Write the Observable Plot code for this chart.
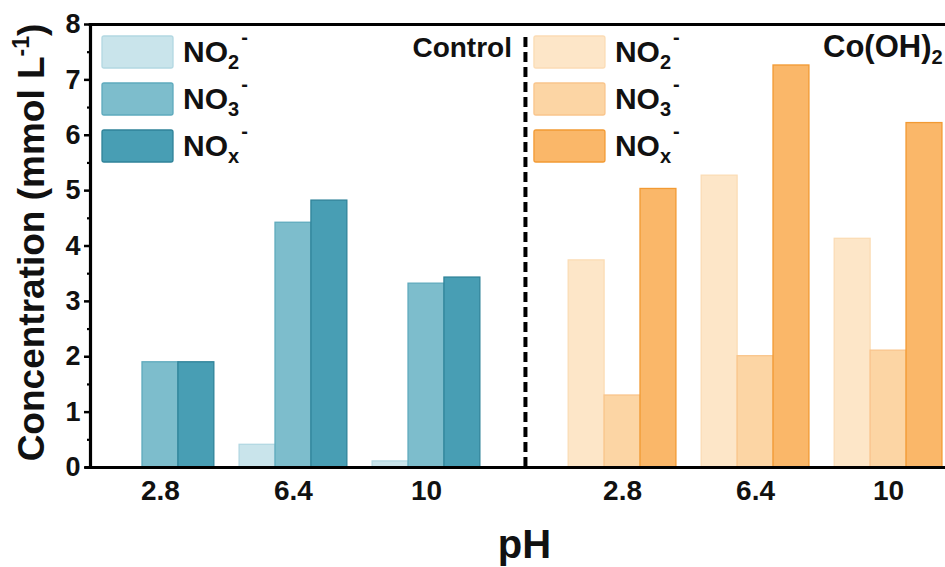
<!DOCTYPE html>
<html><head><meta charset="utf-8">
<script src="https://cdn.jsdelivr.net/npm/d3@7"></script>
<script src="https://cdn.jsdelivr.net/npm/@observablehq/plot@0.6"></script>
<style>
body{margin:0;background:#fff}
#chart svg{font-family:"Liberation Sans",Arial,sans-serif;font-weight:bold;overflow:visible}
</style>
</head><body><div id="chart"></div>
<script>
// ---- data ----
const pHLabels = ["2.8", "6.4", "10"];
const panels = ["Control", "Co(OH)2"];
const species = ["NO2", "NO3", "NOx"];
const controlNO2 = [0, 0.41, 0.11];
const controlNO3 = [1.90, 4.42, 3.32];
const controlNOx = [1.90, 4.82, 3.43];
const coNO2 = [3.74, 5.27, 4.13];
const coNO3 = [1.30, 2.01, 2.11];
const coNOx = [5.03, 7.26, 6.22];
const yTicks = [0, 1, 2, 3, 4, 5, 6, 7, 8];
const yMinor = [0.5, 1.5, 2.5, 3.5, 4.5, 5.5, 6.5, 7.5];

// ---- styling / layout ----
const fills = [["#c9e4eb", "#7dbdcc", "#489eb4"], ["#fde6c8", "#fcd5a4", "#fab769"]];
const strokes = [["#b3d8e2", "#5eaabd", "#2f8399"], ["#fbdcb5", "#f9c58c", "#f29a33"]];
const panelShift = 3.474, barW = 0.27, divider = 3.744;
const xDomain = [0.474, 6.902];

const values = [[controlNO2, controlNO3, controlNOx], [coNO2, coNO3, coNOx]];
const rows = [];
const labelRows = [];
panels.forEach((p, pi) => {
  pHLabels.forEach((ph, gi) => {
    const c = 1 + gi + pi * panelShift;
    labelRows.push({c, text: ph});
    species.forEach((s, k) => {
      const x1 = c + (k - 1.5) * barW;
      rows.push({x1, x2: x1 + barW, v: values[pi][k][gi], fill: fills[pi][k], stroke: strokes[pi][k]});
    });
  });
});

const plot = Plot.plot({
  width: 945, height: 567,
  marginLeft: 90, marginRight: 0, marginTop: 24, marginBottom: 100,
  x: {type: "linear", domain: xDomain, axis: null},
  y: {domain: [0, 8], axis: null},
  marks: [
    Plot.rect(rows, {x1: "x1", x2: "x2", y1: 0, y2: "v", fill: d => d.fill, stroke: d => d.stroke, strokeWidth: 1.3}),
    Plot.ruleX([divider], {y1: 0, y2: 7.84, stroke: "#000", strokeWidth: 4, strokeDasharray: "10,5"}),
    Plot.ruleY([0], {stroke: "#000", strokeWidth: 3.2, x1: xDomain[0] - 0.04, x2: xDomain[1]}),
    Plot.ruleY([8], {stroke: "#000", strokeWidth: 3.2, x1: xDomain[0] - 0.01, x2: xDomain[1]}),
    Plot.ruleX([xDomain[0]], {stroke: "#000", strokeWidth: 3.2}),
    Plot.axisY(yMinor, {tickSize: 3, strokeWidth: 2.2, tickFormat: () => "", label: null}),
    Plot.axisY(yTicks, {tickSize: 6, tickPadding: 4, strokeWidth: 2.5, fontSize: 27, fontWeight: "bold", fill: "#111", tickFormat: d => String(d), label: null}),
    Plot.text(labelRows, {x: "c", y: 0, text: "text", dy: 24, fontSize: 28, fontWeight: "bold", fill: "#111"})
  ]
});
document.getElementById("chart").append(plot);

// ---- annotations (titles, legend) via the plot's scales ----
const svg = d3.select(plot);
const X = v => plot.scale("x").apply(v);
const Y = v => plot.scale("y").apply(v);

// y title
const yt = svg.append("text")
  .attr("transform", `translate(44,${Y(4) - 3}) rotate(-90)`)
  .attr("text-anchor", "middle").attr("font-size", 37).attr("font-weight", "bold").attr("fill", "#111");
yt.append("tspan").text("Concentration (mmol L");
yt.append("tspan").attr("font-size", 23).attr("dy", -15).text("-1");
yt.append("tspan").attr("dy", 15).text(")");

// x title
svg.append("text").attr("x", X(3.74)).attr("y", 558).attr("text-anchor", "middle")
  .attr("font-size", 40).attr("font-weight", "bold").attr("fill", "#111").text("pH");

// panel labels
svg.append("text").attr("x", X(divider) - 13).attr("y", 57).attr("text-anchor", "end")
  .attr("font-size", 28).attr("font-weight", "bold").attr("fill", "#111").text(panels[0]);
const co = svg.append("text").attr("x", 823).attr("y", 57).attr("text-anchor", "start")
  .attr("font-size", 31).attr("font-weight", "bold").attr("fill", "#111");
co.append("tspan").text("Co(OH)");
co.append("tspan").attr("font-size", 20).attr("dy", 7).text("2");

// legends
const subs = ["2", "3", "x"];
[X(xDomain[0]) + 12, X(divider) + 9].forEach((lx, pi) => {
  species.forEach((s, k) => {
    const top = 36 + k * 47;
    svg.append("rect").attr("x", lx).attr("y", top).attr("width", 71).attr("height", 32).attr("rx", 2)
      .attr("fill", fills[pi][k]).attr("stroke", strokes[pi][k]).attr("stroke-width", 1.3);
    const t = svg.append("text").attr("x", lx + 81).attr("y", top + 26).attr("text-anchor", "start")
      .attr("font-size", 30).attr("font-weight", "bold").attr("fill", "#111");
    t.append("tspan").text("NO");
    t.append("tspan").attr("font-size", 20).attr("dy", 7).text(subs[k]);
    t.append("tspan").attr("font-size", 20).attr("dy", -25).attr("dx", 2).text("-");
  });
});
</script>
</body></html>
